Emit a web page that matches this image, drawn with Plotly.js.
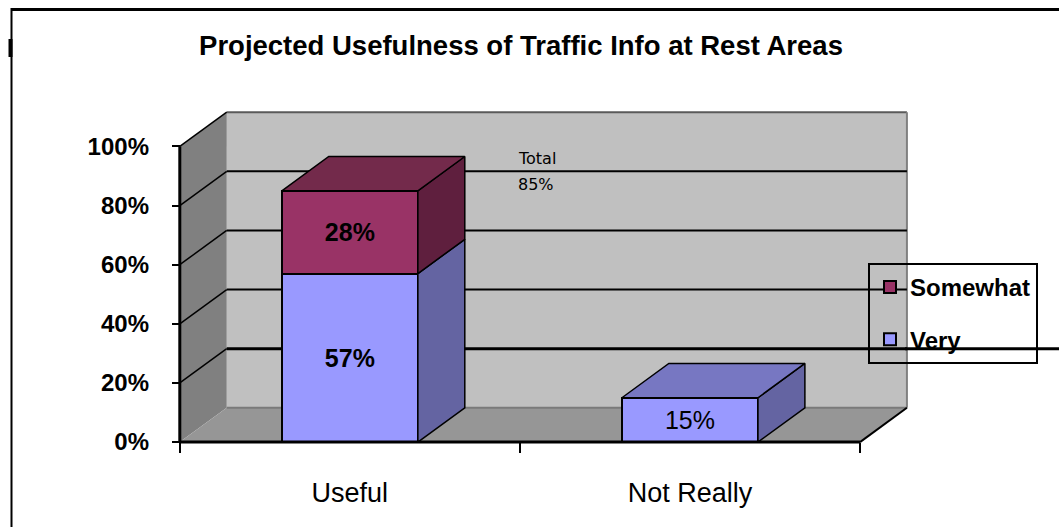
<!DOCTYPE html>
<html>
<head>
<meta charset="utf-8">
<script src="https://cdn.plot.ly/plotly-3.0.1.min.js"></script>
<style>html,body{margin:0;padding:0;background:#fff;}#chart{width:1059px;height:527px;}</style>
</head>
<body>
<div id="chart"></div>
<script>
// ---- data ----
const categories = ['Useful', 'Not Really'];
const very = [57, 15];
const somewhat = [28, 0];
const seriesNames = ['Very', 'Somewhat'];
const yTickVals = [0, 20, 40, 60, 80, 100];
const yTickText = ['0%', '20%', '40%', '60%', '80%', '100%'];
const titleText = 'Projected Usefulness of Traffic Info at Rest Areas';
const totalLabel = 'Total';

// ---- geometry / style ----
const xr = [-0.02, 2.15], yr = [-2, 113];
const DX = 0.138, DY = 11.6, W = 0.2;
const N = categories.length;
const pos = categories.map((c, i) => i + 0.5);
const ML = 173, MR = 148, MT = 108, MB = 79, FW = 1059, FH = 527;
const PW = FW - ML - MR, PH = FH - MT - MB;
const px2paperX = p => (p - ML) / PW;
const py2paperY = p => (FH - MB - p) / PH;

const colVery = '#9999ff', colVerySide = '#6464a2', colVeryTop = '#7777c2';
const colSom = '#993366', colSomSide = '#5f1f3e', colSomTop = '#732a4b';

// build 3D side/top faces from data
function sideFaces(bases, tops) {
  const x = [], y = [];
  bases.forEach((b, i) => {
    const t = tops[i]; if (t <= b) return;
    const r = pos[i] + W;
    x.push(r, r + DX, r + DX, r, r, null);
    y.push(b, b + DY, t + DY, t, b, null);
  });
  return {x, y};
}
function topFaces(tops, mask) {
  const x = [], y = [];
  tops.forEach((t, i) => {
    if (!mask[i]) return;
    const l = pos[i] - W, r = pos[i] + W;
    x.push(l, l + DX, r + DX, r, l, null);
    y.push(t, t + DY, t + DY, t, t, null);
  });
  return {x, y};
}
const zeros = very.map(() => 0);
const veryTop = very.slice();
const somTop = very.map((v, i) => v + somewhat[i]);
const vs = sideFaces(zeros, veryTop);
const ss = sideFaces(veryTop, somTop);
const vt = topFaces(veryTop, somewhat.map(s => s === 0));
const st = topFaces(somTop, somewhat.map(s => s > 0));

function poly(f, color) {
  return {type: 'scatter', mode: 'lines', x: f.x, y: f.y, fill: 'toself', fillcolor: color,
    line: {color: '#000', width: 1.5}, showlegend: false, hoverinfo: 'skip'};
}

const traces = [
  {type: 'bar', name: seriesNames[0], x: pos, y: very, width: 2 * W,
   marker: {color: colVery, line: {color: '#000', width: 2}},
   text: very.map(v => v > 0 ? v + '%' : ''), textposition: 'inside', insidetextanchor: 'middle',
   textangle: 0, textfont: {family: 'Liberation Sans', size: 25, color: '#000', weight: [700, 400]},
   legendgroup: 'v', legendrank: 2, hoverinfo: 'skip'},
  {type: 'bar', name: seriesNames[1], x: pos, y: somewhat, width: 2 * W,
   marker: {color: colSom, line: {color: '#000', width: 2}},
   text: somewhat.map(v => v > 0 ? v + '%' : ''), textposition: 'inside', insidetextanchor: 'middle',
   textangle: 0, textfont: {family: 'Liberation Sans', size: 25, color: '#000', weight: 700},
   legendgroup: 's', legendrank: 1, hoverinfo: 'skip'},
  poly(vs, colVerySide), poly(ss, colSomSide), poly(vt, colVeryTop), poly(st, colSomTop),
  {type: 'scatter', mode: 'markers', x: pos, y: [0, 0], xaxis: 'x2', yaxis: 'y',
   marker: {opacity: 0}, showlegend: false, hoverinfo: 'skip'}
];

// walls, floor, gridlines
const shapes = [];
const L = (x0, y0, x1, y1, color, width, layer) => shapes.push({type: 'line', xref: 'x', yref: 'y',
  x0, y0, x1, y1, line: {color, width}, layer: layer || 'below'});
shapes.push({type: 'rect', xref: 'x', yref: 'y', x0: DX, x1: N + DX, y0: DY, y1: 100 + DY,
  fillcolor: '#c0c0c0', line: {width: 0}, layer: 'below'});
shapes.push({type: 'path', xref: 'x', yref: 'y', path: `M0,0 L0,100 L${DX},${100 + DY} L${DX},${DY} Z`,
  fillcolor: '#808080', line: {width: 0}, layer: 'below'});
shapes.push({type: 'path', xref: 'x', yref: 'y', path: `M0,0 L${N},0 L${N + DX},${DY} L${DX},${DY} Z`,
  fillcolor: '#969696', line: {width: 0}, layer: 'below'});
L(DX, 100 + DY, N + DX, 100 + DY, '#5a5a5a', 2);
L(N + DX, DY, N + DX, 100 + DY, '#808080', 2);
L(DX, DY, N + DX, DY, '#7a7a7a', 2);
L(N, 0, N + DX, DY, '#000', 2);
L(0, 100, DX, 100 + DY, '#000', 1.5);
yTickVals.filter(v => v > 0 && v < 100).forEach(v => {
  L(DX, v + DY, N + DX, v + DY, '#000', v === 20 ? 3 : 2);
  L(0, v, DX, v + DY, '#000', 1.5);
});
// artifact: 20% gridline running out to the right edge
shapes.push({type: 'line', xref: 'paper', yref: 'paper', x0: px2paperX(905), x1: px2paperX(1059),
  y0: (20 + DY - yr[0]) / (yr[1] - yr[0]), y1: (20 + DY - yr[0]) / (yr[1] - yr[0]),
  line: {color: '#000', width: 3}, layer: 'above'});
// axis lines
L(0, 0, 0, 100, '#000', 3, 'above');
L(0, 0, N, 0, '#000', 3, 'above');
// page frame
shapes.push({type: 'line', xref: 'paper', yref: 'paper', x0: px2paperX(11), x1: px2paperX(1062),
  y0: py2paperY(9.5), y1: py2paperY(9.5), line: {color: '#000', width: 3}});
shapes.push({type: 'line', xref: 'paper', yref: 'paper', x0: px2paperX(11.5), x1: px2paperX(11.5),
  y0: py2paperY(8), y1: py2paperY(530), line: {color: '#000', width: 2}});
shapes.push({type: 'line', xref: 'paper', yref: 'paper', x0: px2paperX(10.5), x1: px2paperX(10.5),
  y0: py2paperY(39), y1: py2paperY(57), line: {color: '#000', width: 4}});

const xPos = (0 - yr[0]) / (yr[1] - yr[0]);
const yPos = (0 - xr[0]) / (xr[1] - xr[0]);
const total = very[0] + somewhat[0];

const layout = {
  width: FW, height: FH,
  margin: {l: ML, r: MR, t: MT, b: MB},
  paper_bgcolor: '#fff', plot_bgcolor: 'rgba(0,0,0,0)',
  barmode: 'stack', bargap: 0,
  title: {text: titleText, font: {family: 'Liberation Sans', size: 27.5, color: '#000', weight: 700},
    xref: 'container', yref: 'container', x: 521 / FW, y: 1 - 45 / FH, xanchor: 'center', yanchor: 'middle'},
  xaxis: {range: xr, anchor: 'free', position: xPos, tickvals: [0, 1, 2], ticktext: ['', '', ''],
    ticks: 'outside', ticklen: 10, tickwidth: 2, tickcolor: '#000', showgrid: false, zeroline: false,
    showline: false, fixedrange: true},
  xaxis2: {range: xr, overlaying: 'x', anchor: 'free', position: xPos, side: 'bottom', tickvals: pos,
    ticktext: categories, ticks: '', ticklabelstandoff: 32, showgrid: false, zeroline: false, showline: false,
    tickfont: {family: 'Liberation Sans', size: 27, color: '#000'}},
  yaxis: {range: yr, anchor: 'free', position: yPos, tickvals: yTickVals, ticktext: yTickText,
    ticks: 'outside', ticklen: 8, tickwidth: 2, tickcolor: '#000', showgrid: false, zeroline: false,
    showline: false, ticklabelstandoff: 18,
    tickfont: {family: 'Liberation Sans', size: 24, color: '#000', weight: 700}},
  legend: {x: px2paperX(868), y: py2paperY(263), xanchor: 'left', yanchor: 'top',
    bgcolor: 'rgba(0,0,0,0)', bordercolor: '#000', borderwidth: 2, tracegroupgap: 18,
    traceorder: 'grouped', font: {family: 'Liberation Sans', size: 24, color: '#000', weight: 700}},
  annotations: [
    {x: 0.99, y: 96, xref: 'x', yref: 'y', text: totalLabel, showarrow: false, xanchor: 'left',
     font: {family: 'DejaVu Sans', size: 16, color: '#000'}},
    {x: 0.99, y: 87, xref: 'x', yref: 'y', text: total + '%', showarrow: false, xanchor: 'left',
     font: {family: 'DejaVu Sans', size: 16, color: '#000'}}
  ],
  shapes: shapes,
  showlegend: true
};

Plotly.newPlot('chart', traces, layout, {staticPlot: true});
</script>
</body>
</html>
